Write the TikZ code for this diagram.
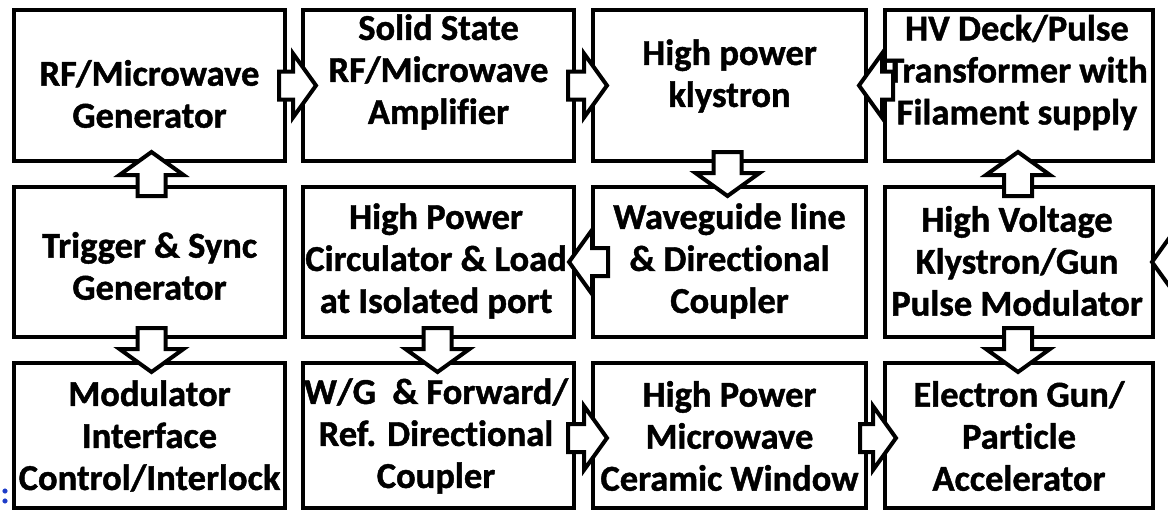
\documentclass[tikz,border=0pt]{standalone}
\usepackage{fontspec}
\setmainfont{Carlito}[Ligatures=NoCommon, BoldFeatures={FakeBold=1.2}]
\usetikzlibrary{calc}
\newcommand\BAsw{14pt}
\newcommand\BAhw{32pt}
\newcommand\BAhl{23pt}
\newcommand\barrow[2]{%
  \draw[blockarrow] let \p1=(#1), \p2=(#2),
    \n1={veclen(\x2-\x1,\y2-\y1)},
    \n2={(\x2-\x1)/\n1}, \n3={(\y2-\y1)/\n1},
    \p3=({\x2-(\n2)*\BAhl},{\y2-(\n3)*\BAhl}) in
    ({\x1-(\n3)*\BAsw},{\y1+(\n2)*\BAsw}) --
    ({\x3-(\n3)*\BAsw},{\y3+(\n2)*\BAsw}) --
    ({\x3-(\n3)*\BAhw},{\y3+(\n2)*\BAhw}) --
    (\p2) --
    ({\x3+(\n3)*\BAhw},{\y3-(\n2)*\BAhw}) --
    ({\x3+(\n3)*\BAsw},{\y3-(\n2)*\BAsw}) --
    ({\x1+(\n3)*\BAsw},{\y1-(\n2)*\BAsw}) -- cycle;}
\begin{document}
\begin{tikzpicture}[x=1pt,y=-1pt,
  box/.style={draw=black, line width=4pt, rectangle, inner sep=0pt},
  txt/.style={align=center, inner sep=0pt, font=\bfseries\fontsize{36.5}{42}\selectfont},
  blockarrow/.style={draw=black, fill=white, line width=4pt, line join=miter}]
\useasboundingbox (0,0) rectangle (1168,514);
\fill[white] (0,0) rectangle (1168,514);
\clip (0,0) rectangle (1168,514);
% boxes
\node[box, minimum width=271pt, minimum height=151pt] (b11) at (149.5,85.5) {};
\node[box, minimum width=271pt, minimum height=151pt] (b12) at (438.5,85.5) {};
\node[box, minimum width=273pt, minimum height=151pt] (b13) at (729.5,85.5) {};
\node[box, minimum width=268pt, minimum height=151pt] (b14) at (1019,85.5) {};
\node[box, minimum width=271pt, minimum height=150pt] (b21) at (149.5,262) {};
\node[box, minimum width=271pt, minimum height=150pt] (b22) at (438.5,262) {};
\node[box, minimum width=273pt, minimum height=150pt] (b23) at (729.5,262) {};
\node[box, minimum width=268pt, minimum height=150pt] (b24) at (1019,262) {};
\node[box, minimum width=271pt, minimum height=145pt] (b31) at (149.5,435.5) {};
\node[box, minimum width=271pt, minimum height=145pt] (b32) at (438.5,435.5) {};
\node[box, minimum width=273pt, minimum height=145pt] (b33) at (729.5,435.5) {};
\node[box, minimum width=268pt, minimum height=145pt] (b34) at (1019,435.5) {};
% texts
\node[txt] (t11) at (149.5,94) {RF/Microwave\\Generator};
\node[txt] (t12) at (438.5,72) {Solid State\\RF/Microwave\\Amplifier};
\node[txt] (t13) at (729.5,76) {High power\\klystron};
\node[txt] (t14) at (1017,72.5) {HV Deck/Pulse\\Transformer with\\Filament supply};
\node[txt] (t21) at (149.5,266) {Trigger \& Sync\\Generator};
\node[txt] (t22) at (436,261) {High Power\\Circulator \& Load\\at Isolated port};
\node[txt] (t23) at (729.5,261) {Waveguide line\\\& Directional\\Coupler};
\node[txt] (t24) at (1017,261) {High Voltage\\Klystron/Gun\\Pulse Modulator};
\node[txt] (t31) at (149.5,436) {Modulator\\Interface\\Control/Interlock};
\node[txt] (t32) at (436,436) {W/G~~\& Forward/\\Ref. Directional\\Coupler};
\node[txt] (t33) at (729.5,436) {High Power\\Microwave\\Ceramic Window};
\node[txt] (t34) at (1019,436) {Electron Gun/\\Particle\\Accelerator};
\node[font=\bfseries\fontsize{30}{30}\selectfont, text={rgb,255:red,30;green,60;blue,200}, inner sep=0pt] (colon) at (5,496) {:};
\coordinate (ext) at (1215,262);
% block arrows
\barrow{$(b11.east)+(-8,0)$}{$(b12.west)+(15,0)$}
\barrow{$(b12.east)+(-8,0)$}{$(b13.west)+(16,0)$}
\barrow{$(b14.west)+(10,0)$}{$(b13.east)+(-9,0)$}
\barrow{$(b21.north)+(2,11)$}{$(b11.south)+(2,-11)$}
\barrow{$(b21.south)+(2,-11)$}{$(b31.north)+(2,11)$}
\barrow{$(b13.south)+(-2,-11)$}{$(b23.north)+(-2,11)$}
\barrow{$(b23.west)+(17,0)$}{$(b22.east)+(-7,0)$}
\barrow{$(b22.south)+(-1,-11)$}{$(b32.north)+(-1,11)$}
\barrow{$(b24.north)+(-1,11)$}{$(b14.south)+(-1,-11)$}
\barrow{$(b24.south)+(-1,-11)$}{$(b34.north)+(-1,11)$}
\barrow{$(b32.east)+(-8,2.5)$}{$(b33.west)+(16,2.5)$}
\barrow{$(b33.east)+(-8,2.5)$}{$(b34.west)+(13,2.5)$}
\barrow{ext}{$(b24.east)+(-3,0)$}
\end{tikzpicture}
\end{document}
